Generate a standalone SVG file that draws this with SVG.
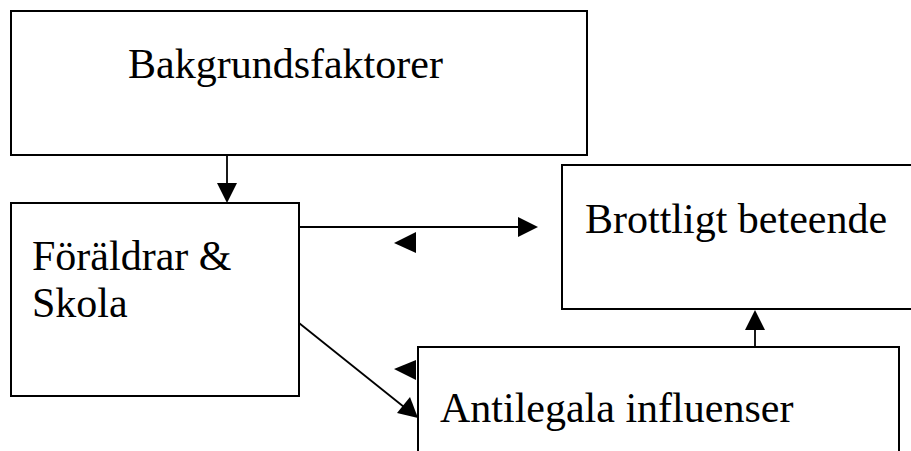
<svg xmlns="http://www.w3.org/2000/svg" width="911" height="451" viewBox="0 0 911 451">
<style>
.box{fill:#fff;stroke:#000;stroke-width:2}
.t{font-family:"Liberation Serif","Times New Roman",serif;font-size:42px;fill:#000}
.ln{stroke:#000;stroke-width:1.8;fill:none}
.ah{fill:#000}
</style>
<g id="bakgrund"><rect class="box" x="11" y="11" width="576" height="144"/><text class="t" x="128" y="78">Bakgrundsfaktorer</text></g>
<g id="foraldrar"><rect class="box" x="11" y="203" width="288" height="193"/><text class="t" x="32" y="270">Föräldrar &amp;</text><text class="t" x="32" y="317">Skola</text></g>
<g id="brottligt"><rect class="box" x="562" y="165" width="360" height="144"/><text class="t" x="585" y="233">Brottligt beteende</text></g>
<g id="antilegala"><rect class="box" x="418" y="347" width="481" height="120"/><text class="t" x="440" y="422">Antilegala influenser</text></g>
<g id="connectors">
<line class="ln" x1="227" y1="155" x2="227" y2="186"/>
<polygon class="ah" points="217,183 237,183 227,203"/>
<line class="ln" x1="299" y1="227" x2="520" y2="227"/>
<polygon class="ah" points="518,217 518,237 538,227"/>
<polygon class="ah" points="416,232 416,253 394,243"/>
<line class="ln" x1="755" y1="347" x2="755" y2="328"/>
<polygon class="ah" points="745,330 765,330 755,310"/>
<line class="ln" x1="299" y1="323" x2="404" y2="407"/>
<polygon class="ah" points="397,413 410,397 418,418"/>
<polygon class="ah" points="416,360 416,380 394,369"/>
</g>
</svg>
